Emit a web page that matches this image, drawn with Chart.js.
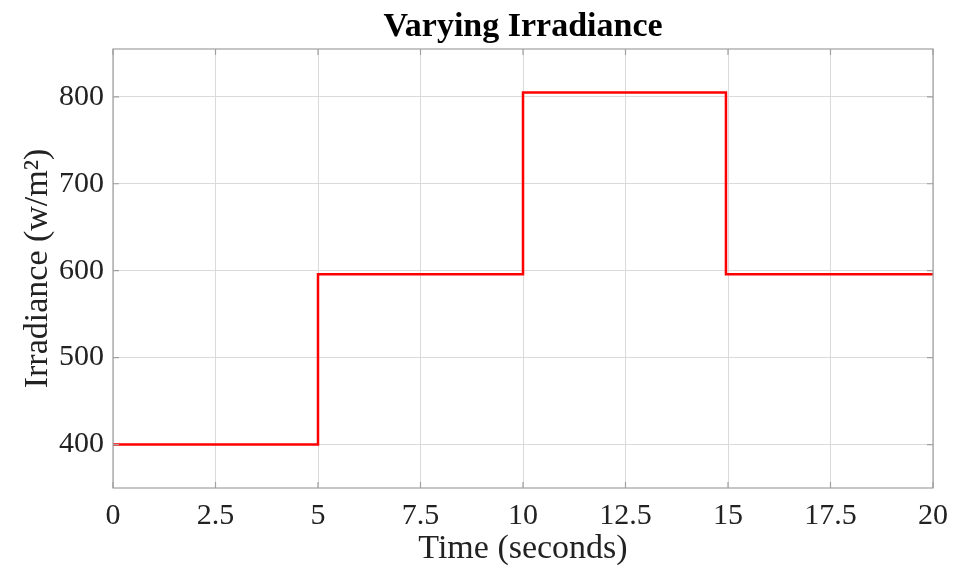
<!DOCTYPE html>
<html>
<head>
<meta charset="utf-8">
<script src="https://cdn.jsdelivr.net/npm/chart.js@4.4.1/dist/chart.umd.min.js"></script>
<style>
  html, body { margin: 0; padding: 0; background: #fff; }
  #wrap { width: 958px; height: 569px; position: relative; }
</style>
</head>
<body>
<div id="wrap"><canvas id="chart" width="958" height="569"></canvas></div>
<script>
// step profile of irradiance (each step listed as its corner points)
const timeSec = [0, 5, 5, 10, 10, 14.95, 14.95, 20];
const irradiance = [400, 400, 596, 596, 805, 805, 596, 596];
const xTicks = [0, 2.5, 5, 7.5, 10, 12.5, 15, 17.5, 20];
const yTicks = [400, 500, 600, 700, 800];
const chartTitle = "Varying Irradiance";

const serif = "'Liberation Serif', 'Times New Roman', serif";

// matlab-like box around the axes with small inward ticks,
// title centred over the plot area rather than the canvas
const boxPlugin = {
    id: "axesBox",
    afterDraw: (chart) => {
        const { ctx, chartArea, scales } = chart;
        const { left, right, top, bottom } = chartArea;
        ctx.save();
        ctx.strokeStyle = "#a0a0a0";
        ctx.lineWidth = 1.2;
        ctx.strokeRect(left, top, right - left, bottom - top);
        ctx.beginPath();
        xTicks.forEach((v) => {
            const px = scales.x.getPixelForValue(v);
            ctx.moveTo(px, bottom);
            ctx.lineTo(px, bottom - 6);
            ctx.moveTo(px, top);
            ctx.lineTo(px, top + 6);
        });
        yTicks.forEach((v) => {
            const py = scales.y.getPixelForValue(v);
            ctx.moveTo(left, py);
            ctx.lineTo(left + 6, py);
            ctx.moveTo(right, py);
            ctx.lineTo(right - 6, py);
        });
        ctx.stroke();

        ctx.font = `bold 34px ${serif}`;
        ctx.fillStyle = "#000";
        ctx.textAlign = "center";
        ctx.textBaseline = "middle";
        ctx.fillText(chartTitle, (left + right) / 2, top - 22);
        ctx.restore();
    },
};

new Chart(document.getElementById("chart"), {
    type: "line",
    data: {
        datasets: [{
            data: timeSec.map((t, i) => ({ x: t, y: irradiance[i] })),
            borderColor: "#ff0000",
            borderWidth: 2.5,
            pointRadius: 0,
            tension: 0,
        }],
    },
    options: {
        responsive: false,
        animation: false,
        layout: { padding: { left: 0, right: 25, top: 49, bottom: 0 } },
        plugins: {
            legend: { display: false },
            tooltip: { enabled: false },
            title: { display: false },
        },
        scales: {
            x: {
                type: "linear",
                min: 0,
                max: 20,
                afterBuildTicks: (scale) => {
                    scale.ticks = xTicks.map((v) => ({ value: v }));
                },
                afterFit: (scale) => { scale.height = 81; },
                ticks: {
                    color: "#222",
                    font: { family: serif, size: 30 },
                    padding: 10,
                    maxRotation: 0,
                    autoSkip: false,
                    callback: (v) => String(v),
                },
                grid: { color: "#dadada", lineWidth: 1, drawTicks: false },
                border: { display: false },
                title: {
                    display: true,
                    text: "Time (seconds)",
                    color: "#222",
                    font: { family: serif, size: 34 },
                    padding: { top: 0, bottom: 0 },
                },
            },
            y: {
                min: 350,
                max: 855,
                afterBuildTicks: (scale) => {
                    scale.ticks = yTicks.map((v) => ({ value: v }));
                },
                afterFit: (scale) => { scale.width = 113; },
                ticks: {
                    color: "#222",
                    font: { family: serif, size: 30 },
                    padding: 9,
                    autoSkip: false,
                },
                grid: { color: "#dadada", lineWidth: 1, drawTicks: false },
                border: { display: false },
                title: {
                    display: true,
                    text: "Irradiance (w/m\u00B2)",
                    color: "#222",
                    font: { family: serif, size: 34 },
                    padding: { top: 18, bottom: 0 },
                },
            },
        },
    },
    plugins: [boxPlugin],
});
</script>
</body>
</html>
